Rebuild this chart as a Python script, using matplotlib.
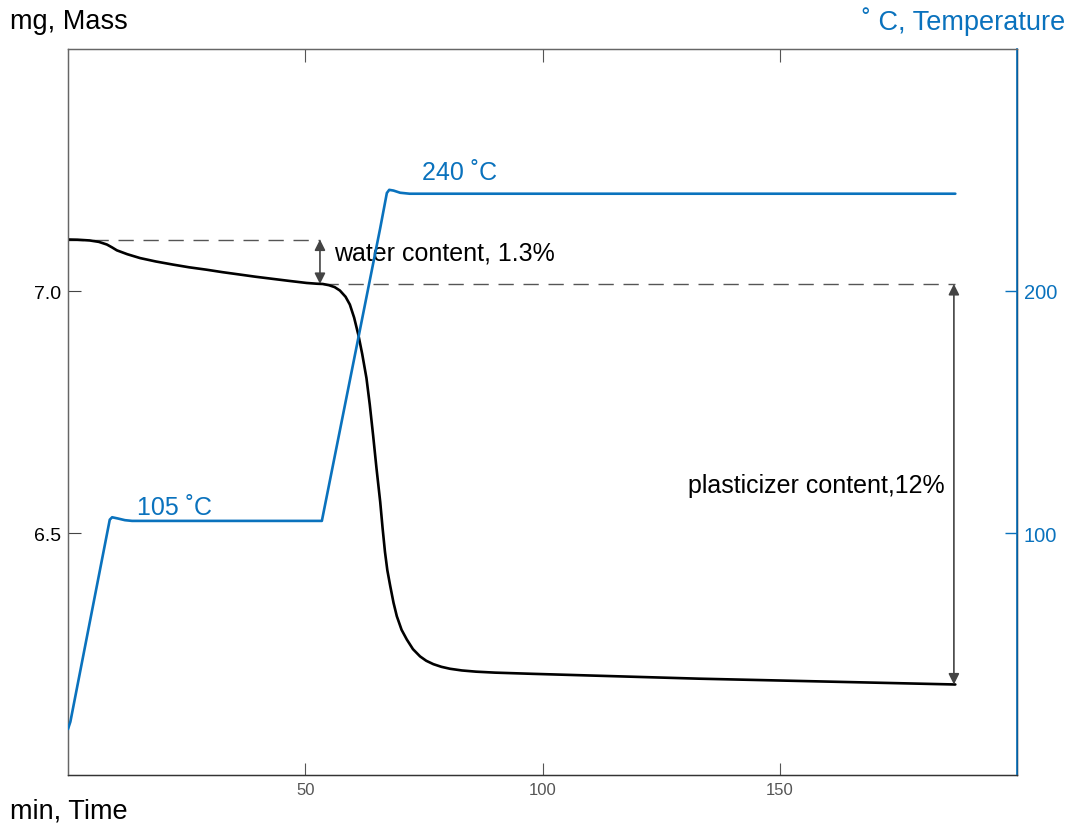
import matplotlib
matplotlib.use("Agg")
import matplotlib.pyplot as plt

plt.rcParams['font.family'] = ['Liberation Sans', 'DejaVu Sans']

# Thermogravimetric run: sample mass (mg) and furnace temperature (°C) vs time (min)
mass_time = [0.0, 2.0, 4.6, 6.5, 8.2, 9.3, 10.3, 12.5, 15.2, 18.5, 22.1, 25.5, 29.2,
             32.5, 36.2, 39.5, 43.2, 46.5, 50.3, 52.5, 53.7, 55.0, 56.2, 57.3, 58.5,
             59.4, 60.3, 61.2, 62.0, 62.9, 63.6, 64.3, 65.0, 65.8, 66.3, 66.8, 67.3,
             67.9, 68.6, 69.3, 70.3, 71.4, 72.7, 74.2, 75.5, 77.0, 78.7, 80.5, 83.0,
             86.0, 90.0, 98.0, 112.0, 133.0, 160.0, 187.0]
mass_mg = [7.1064, 7.1060, 7.1044, 7.1015, 7.0960, 7.0900, 7.0840, 7.0760, 7.0680,
           7.0610, 7.0546, 7.0490, 7.0440, 7.0390, 7.0340, 7.0295, 7.0250, 7.0210,
           7.0166, 7.0150, 7.0145, 7.0120, 7.0080, 7.0010, 6.9880, 6.9720, 6.9450,
           6.9090, 6.8700, 6.8200, 6.7650, 6.7020, 6.6350, 6.5640, 6.5100, 6.4610,
           6.4230, 6.3910, 6.3560, 6.3280, 6.3000, 6.2800, 6.2600, 6.2450, 6.2360,
           6.2290, 6.2235, 6.2195, 6.2160, 6.2135, 6.2115, 6.2090, 6.2050, 6.1990,
           6.1930, 6.1870]

temp_time = [0.0, 0.5, 8.8, 9.3, 10.5, 12.0, 13.5, 53.5, 65.8, 67.2, 67.7, 68.6,
             70.0, 72.0, 187.0]
temp_c = [19.0, 22.0, 105.5, 106.5, 106.0, 105.3, 105.0, 105.0, 226.0, 240.5,
          241.8, 241.5, 240.6, 240.2, 240.2]

time_ticks = [50, 100, 150]
mass_ticks = [6.5, 7.0]
temp_ticks = [100, 200]

water_label = "water content, 1.3%"
plasticizer_label = "plasticizer content,12%"
hold_labels = ["105 \u02daC", "240 \u02daC"]

BLUE = "#0a72bd"
GRAY = "#444444"

fig = plt.figure(figsize=(10.73, 8.28), dpi=100)
ax = fig.add_axes([68 / 1073, 1 - 776 / 828, (1017 - 68) / 1073, (776 - 50) / 828])
ax2 = ax.twinx()

ax.plot(mass_time, mass_mg, color="black", lw=1.9, solid_joinstyle="round",
        solid_capstyle="round", zorder=3)
ax2.plot(temp_time, temp_c, color=BLUE, lw=1.9, solid_joinstyle="round",
         solid_capstyle="round", zorder=3)

ax.set_xlim(0, 200)
ax.set_ylim(6.0, 7.5)
ax2.set_ylim(0, 300)

ax.set_xticks(time_ticks)
ax.set_yticks(mass_ticks)
ax2.set_yticks(temp_ticks)
ax.set_yticklabels([f"{v:.1f}" for v in mass_ticks])
ax2.set_yticklabels([str(v) for v in temp_ticks])

ax.tick_params(axis="x", direction="in", length=9, width=0.8, color="#555555",
               labelcolor="#555555", labelsize=12, top=True, pad=5)
ax.tick_params(axis="y", direction="in", length=9, width=0.8, color="#444444",
               labelcolor="black", labelsize=14, pad=5)
ax2.tick_params(axis="y", direction="in", length=9, width=1.0, color=BLUE,
                labelcolor=BLUE, labelsize=14.5, pad=5)

for side in ("left", "top"):
    ax.spines[side].set_color("#666666")
    ax2.spines[side].set_color("#666666")
ax.spines["bottom"].set_color("#333333")
ax2.spines["bottom"].set_color("#333333")
ax2.spines["right"].set_color(BLUE)
ax2.spines["right"].set_linewidth(1.2)
for sp in ax.spines.values():
    sp.set_linewidth(1.0)

# Reference levels: initial mass and mass at the end of the 105 °C hold
m_start = mass_mg[0]
hold_end = mass_time.index(53.7)
m_dry = mass_mg[hold_end]
m_end = mass_mg[-1]
t_dry = mass_time[hold_end]
t_end = mass_time[-1]

dash = dict(color="#555555", lw=1.0, dashes=(11, 7))
ax.plot([0, t_dry - 0.5], [m_start, m_start], **dash, zorder=2)
ax.plot([t_dry, t_end], [m_dry, m_dry], **dash, zorder=2)

arrow = dict(arrowstyle="<|-|>", color=GRAY, lw=1.2, mutation_scale=16,
             shrinkA=0, shrinkB=0)
ax.annotate("", xy=(t_dry - 0.6, m_start), xytext=(t_dry - 0.6, m_dry),
            arrowprops=arrow, zorder=4)
ax.annotate("", xy=(t_end - 0.3, m_dry), xytext=(t_end - 0.3, m_end),
            arrowprops=arrow, zorder=4)

ax.text(56.0, 7.079, water_label, fontsize=18, color="black", va="center", ha="left")
ax.text(184.8, 6.60, plasticizer_label, fontsize=18, color="black", va="center",
        ha="right")
ax2.text(14.6, 110.8, hold_labels[0], fontsize=18, color=BLUE, va="center", ha="left")
ax2.text(74.6, 249.0, hold_labels[1], fontsize=18, color=BLUE, va="center", ha="left")

fig.text(10 / 1073, 1 - 22 / 828, "mg, Mass", fontsize=19.5, color="black",
         va="center", ha="left")
fig.text(1065 / 1073, 1 - 22 / 828, "\u02da C, Temperature", fontsize=19.5, color=BLUE,
         va="center", ha="right")
fig.text(10 / 1073, 1 - 812 / 828, "min, Time", fontsize=19.5, color="black",
         va="center", ha="left")

fig.savefig("out.png", dpi=100)
